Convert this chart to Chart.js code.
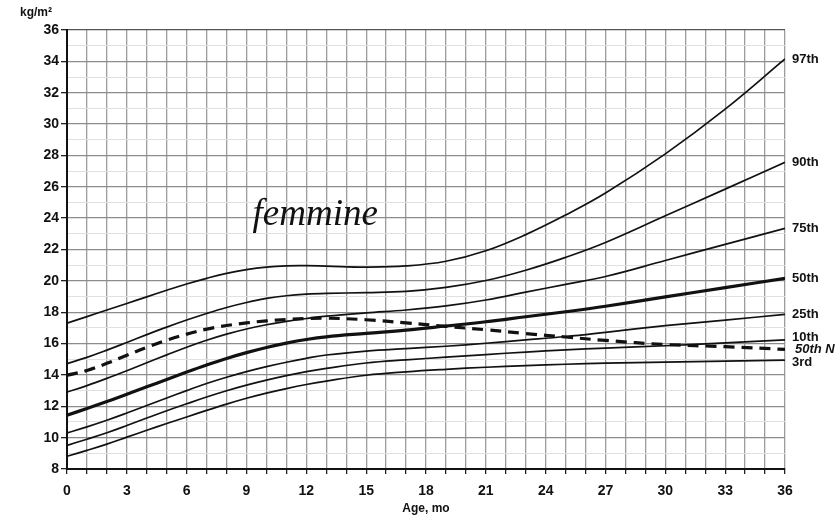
<!DOCTYPE html>
<html>
<head>
<meta charset="utf-8">
<title>BMI-for-age, femmine 0–36 mesi</title>
<script src="https://cdn.jsdelivr.net/npm/chart.js@4/dist/chart.umd.min.js"></script>
<style>
  html, body { margin: 0; padding: 0; background: #ffffff; }
  #wrap { width: 840px; height: 520px; position: relative; }
</style>
</head>
<body>
<div id="wrap"><canvas id="bmi"></canvas></div>
<script>
// Age in months at which each curve is sampled
const ages = [0, 1, 2, 3, 4, 5, 6, 7, 8, 9, 10, 11, 12, 13, 15, 17, 19, 21, 23, 25, 27, 30, 33, 36];

// BMI percentile curves, kg/m²
const p97 = [17.30, 17.72, 18.14, 18.56, 18.98, 19.40, 19.80, 20.16, 20.48, 20.72, 20.88, 20.96, 20.97, 20.94, 20.88, 20.95, 21.25, 21.92, 22.95, 24.20, 25.60, 28.10, 30.95, 34.15];
const p90 = [14.72, 15.12, 15.58, 16.07, 16.57, 17.05, 17.50, 17.92, 18.30, 18.62, 18.88, 19.05, 19.15, 19.20, 19.25, 19.33, 19.58, 20.02, 20.68, 21.50, 22.45, 24.15, 25.85, 27.56];
const p75 = [12.91, 13.32, 13.78, 14.27, 14.78, 15.28, 15.77, 16.21, 16.60, 16.93, 17.20, 17.42, 17.60, 17.75, 17.96, 18.14, 18.40, 18.78, 19.28, 19.78, 20.28, 21.30, 22.33, 23.35];
const p50 = [11.43, 11.86, 12.30, 12.77, 13.24, 13.71, 14.18, 14.63, 15.05, 15.42, 15.75, 16.03, 16.26, 16.43, 16.65, 16.86, 17.12, 17.39, 17.71, 18.03, 18.38, 18.98, 19.57, 20.16];
const p25 = [10.30, 10.69, 11.11, 11.57, 12.05, 12.53, 13.00, 13.45, 13.85, 14.21, 14.53, 14.81, 15.06, 15.27, 15.52, 15.68, 15.83, 16.02, 16.23, 16.45, 16.72, 17.14, 17.50, 17.86];
const p10 = [9.51, 9.90, 10.31, 10.77, 11.25, 11.72, 12.16, 12.59, 12.99, 13.35, 13.67, 13.96, 14.21, 14.42, 14.76, 14.96, 15.13, 15.30, 15.46, 15.60, 15.71, 15.86, 16.04, 16.23];
const p3  = [8.81, 9.19, 9.59, 10.03, 10.47, 10.90, 11.32, 11.74, 12.14, 12.51, 12.84, 13.13, 13.39, 13.61, 13.98, 14.20, 14.36, 14.49, 14.59, 14.68, 14.75, 14.82, 14.88, 14.95];
// Reference median (50th N), dashed
const p50N = [13.98, 14.28, 14.74, 15.25, 15.76, 16.22, 16.60, 16.92, 17.15, 17.32, 17.45, 17.54, 17.60, 17.62, 17.52, 17.32, 17.10, 16.88, 16.64, 16.42, 16.20, 15.94, 15.80, 15.63];

// Curve names written at the right end of each line
const curveLabels = ['97th', '90th', '75th', '50th', '25th', '10th', '50th N', '3rd'];

// Axis settings
const xMin = 0, xMax = 36, xLabelEvery = 3;
const yMin = 8, yMax = 36, yLabelEvery = 2;

const SANS = "'Liberation Sans', Arial, Helvetica, sans-serif";
const INK = '#111111';

function pts(arr) { return ages.map((a, i) => ({ x: a, y: arr[i] })); }

function curve(label, arr, width, dash) {
  return {
    label: label,
    data: pts(arr),
    borderColor: INK,
    backgroundColor: INK,
    borderWidth: width,
    borderDash: dash || [],
    pointRadius: 0,
    fill: false,
    tension: 0.4
  };
}

const datasets = [
  curve(curveLabels[0], p97, 1.7),
  curve(curveLabels[1], p90, 1.7),
  curve(curveLabels[2], p75, 1.7),
  curve(curveLabels[3], p50, 3.2),
  curve(curveLabels[4], p25, 1.7),
  curve(curveLabels[5], p10, 1.7),
  curve(curveLabels[6], p50N, 3.2, [11, 7]),
  curve(curveLabels[7], p3, 1.7)
];

// Small vertical nudges so close end labels do not collide
const labelNudge = { '10th': -3, '3rd': 2, '50th N': 0 };

const annotations = {
  id: 'annotations',
  afterDatasetsDraw(chart) {
    const ctx = chart.ctx;
    const xs = chart.scales.x, ys = chart.scales.y;
    ctx.save();
    // end-of-curve labels
    ctx.fillStyle = INK;
    ctx.textBaseline = 'middle';
    ctx.textAlign = 'left';
    chart.data.datasets.forEach((ds, i) => {
      const meta = chart.getDatasetMeta(i);
      const last = meta.data[meta.data.length - 1];
      const italic = ds.label === '50th N';
      ctx.font = (italic ? 'italic ' : '') + 'bold 13px ' + SANS;
      const dy = labelNudge[ds.label] || 0;
      ctx.fillText(ds.label, last.x + (italic ? 10 : 7), last.y + dy);
    });
    // unit label above the value axis
    ctx.font = 'bold 12px ' + SANS;
    ctx.textAlign = 'left';
    ctx.textBaseline = 'alphabetic';
    ctx.fillText('kg/m²', 20, 16);
    // title inside the plot
    ctx.font = 'italic 37px "Liberation Serif", "DejaVu Serif", serif';
    ctx.fillText('femmine', xs.getPixelForValue(9.3), ys.getPixelForValue(23.55));
    ctx.restore();
  }
};

const whiteBg = {
  id: 'whiteBg',
  beforeDraw(chart) {
    const c = chart.ctx;
    c.save();
    c.fillStyle = '#ffffff';
    c.fillRect(0, 0, chart.width, chart.height);
    c.restore();
  }
};

new Chart(document.getElementById('bmi'), {
  type: 'line',
  data: { datasets: datasets },
  plugins: [whiteBg, annotations],
  options: {
    responsive: true,
    maintainAspectRatio: false,
    animation: false,
    events: [],
    layout: { padding: { left: 0, right: 55, top: 30, bottom: 0 } },
    plugins: {
      legend: { display: false },
      tooltip: { enabled: false },
      title: { display: false }
    },
    scales: {
      x: {
        type: 'linear',
        min: xMin,
        max: xMax,
        afterFit(scale) { scale.height = 51; },
        ticks: {
          stepSize: 1,
          autoSkip: false,
          maxRotation: 0,
          padding: 9,
          color: INK,
          font: { family: SANS, size: 14, weight: 'bold' },
          callback: v => (v % xLabelEvery === 0 ? String(v) : '')
        },
        grid: {
          color: '#9c9c9c',
          lineWidth: 1.3,
          tickLength: 5,
          tickColor: '#222222'
        },
        border: { color: INK, width: 2 },
        title: {
          display: true,
          text: 'Age, mo',
          color: INK,
          font: { family: SANS, size: 12, weight: 'bold' },
          padding: { top: 0, bottom: 4 }
        }
      },
      y: {
        type: 'linear',
        min: yMin,
        max: yMax,
        afterFit(scale) { scale.width = 67; },
        ticks: {
          stepSize: 1,
          autoSkip: false,
          padding: 2,
          color: INK,
          font: { family: SANS, size: 14, weight: 'bold' },
          callback: v => (v % yLabelEvery === 0 ? String(v) : '')
        },
        grid: {
          color: ctx => {
            const v = ctx.tick ? ctx.tick.value : 0;
            if (v === yMax) return '#555555';
            return v % yLabelEvery === 0 ? '#8c8c8c' : '#e0e0e0';
          },
          lineWidth: ctx => (ctx.tick && ctx.tick.value % yLabelEvery === 0 ? 1.3 : 1),
          tickLength: 6,
          tickColor: ctx => (ctx.tick && ctx.tick.value % yLabelEvery === 0 ? '#222222' : 'rgba(0,0,0,0)')
        },
        border: { color: INK, width: 2 }
      }
    }
  }
});
</script>
</body>
</html>
